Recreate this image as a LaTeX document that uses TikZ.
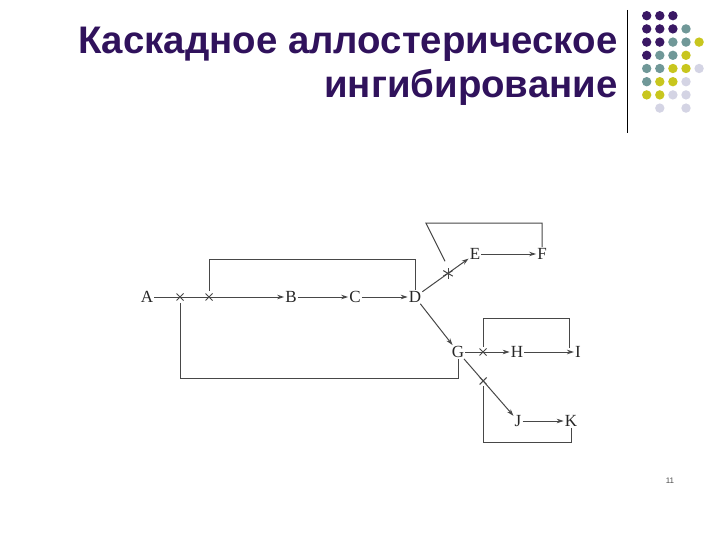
\documentclass[tikz,border=0pt]{standalone}
\usepackage{fontspec}
\setmainfont{Liberation Serif}
\newfontfamily\titlefont{Liberation Sans}
\usetikzlibrary{arrows.meta, calc}
\definecolor{titlepurple}{RGB}{48,18,92}
\definecolor{dotpurple}{RGB}{58,24,100}
\definecolor{dotteal}{RGB}{112,152,152}
\definecolor{dotolive}{RGB}{200,198,30}
\definecolor{dotlilac}{RGB}{212,212,228}

\begin{document}
\begin{tikzpicture}[x=1pt, y=-1pt,
  sub/.style={font=\fontsize{17}{17}\selectfont, inner sep=1pt, text=black!85},
  flow/.style={-{Stealth[length=7pt, width=4.5pt]}, line width=1pt, draw=black!72},
  fb/.style={line width=1pt, draw=black!72},
  heading/.style={anchor=base east, font=\titlefont\bfseries\fontsize{38.4}{44}\selectfont, text=titlepurple}]
  \useasboundingbox (0,0) rectangle (720,540);

  \node[heading] (title1) at (621,54) {Каскадное аллостерическое};
  \node[heading] (title2) at (621,98) {ингибирование};
  \draw[line width=0.8pt] (627,10) -- (627,133);
  \foreach \r/\c/\col in {0/0/dotpurple, 0/1/dotpurple, 0/2/dotpurple,
      1/0/dotpurple, 1/1/dotpurple, 1/2/dotpurple, 1/3/dotteal,
      2/0/dotpurple, 2/1/dotpurple, 2/2/dotteal, 2/3/dotteal, 2/4/dotolive,
      3/0/dotpurple, 3/1/dotteal, 3/2/dotteal, 3/3/dotolive,
      4/0/dotteal, 4/1/dotteal, 4/2/dotolive, 4/3/dotolive, 4/4/dotlilac,
      5/0/dotteal, 5/1/dotolive, 5/2/dotolive, 5/3/dotlilac,
      6/0/dotolive, 6/1/dotolive, 6/2/dotlilac, 6/3/dotlilac,
      7/1/dotlilac, 7/3/dotlilac}
    \fill[\col] (646.7+13.1*\c, 15.7+13.2*\r) circle (4.7);

  % metabolites
  \node[sub] (A) at (147,297) {A};
  \node[sub] (B) at (291,297) {B};
  \node[sub] (C) at (355,297) {C};
  \node[sub] (D) at (415,297) {D};
  \node[sub] (E) at (475,254) {E};
  \node[sub] (F) at (542,254) {F};
  \node[sub] (G) at (458,352) {G};
  \node[sub] (H) at (517,352) {H};
  \node[sub] (I) at (578,352) {I};
  \node[sub] (J) at (518,421) {J};
  \node[sub] (K) at (571,421) {K};

  % inhibited steps
  \coordinate (x1) at (180,297);
  \coordinate (x2) at (209,297);
  \coordinate (x3) at (483,352);
  \coordinate (x4) at ($(G)!0.42!(J)$);
  \coordinate (ast) at ($(D)!0.55!(E)$);

  \draw[flow] (A) -- (B);
  \draw[flow] (B) -- (C);
  \draw[flow] (C) -- (D);
  \draw[flow] (D) -- (E);
  \draw[flow] (E) -- (F);
  \draw[flow] (D) -- (G);
  \draw[flow] (G) -- (H);
  \draw[flow] (H) -- (I);
  \draw[flow] (G) -- (J);
  \draw[flow] (J) -- (K);

  \foreach \c in {x1,x2,x3,x4}
    \draw[fb] ($(\c)+(-3.5,-3.5)$) -- ($(\c)+(3.5,3.5)$)
              ($(\c)+(-3.5,3.5)$) -- ($(\c)+(3.5,-3.5)$);
  \foreach \a in {90,30,-30}
    \draw[fb] (ast) ++(\a:5.5) -- ++(\a+180:11);

  % feedback
  \draw[fb] (D.north) -- ++(0,-31) -| ($(x2)+(0,-6)$);
  \draw[fb] (G.south) -- ++(0,20) -| ($(x1)+(0,6)$);
  \draw[fb] (F.north) -- ++(0,-24) -| ++(-116,0) -- ($(ast)+(-3,-12)$);
  \draw[fb] ($(I.north west)+(-4,3)$) -- ++(0,-30) -| ($(x3)+(0,-5)$);
  \draw[fb] (K.south) -- ++(0,15) -| ($(x4)+(0,5)$);

  \node[font=\titlefont\fontsize{8}{8}\selectfont, text=black!70] (pageno) at (670,481) {11};
\end{tikzpicture}
\end{document}
